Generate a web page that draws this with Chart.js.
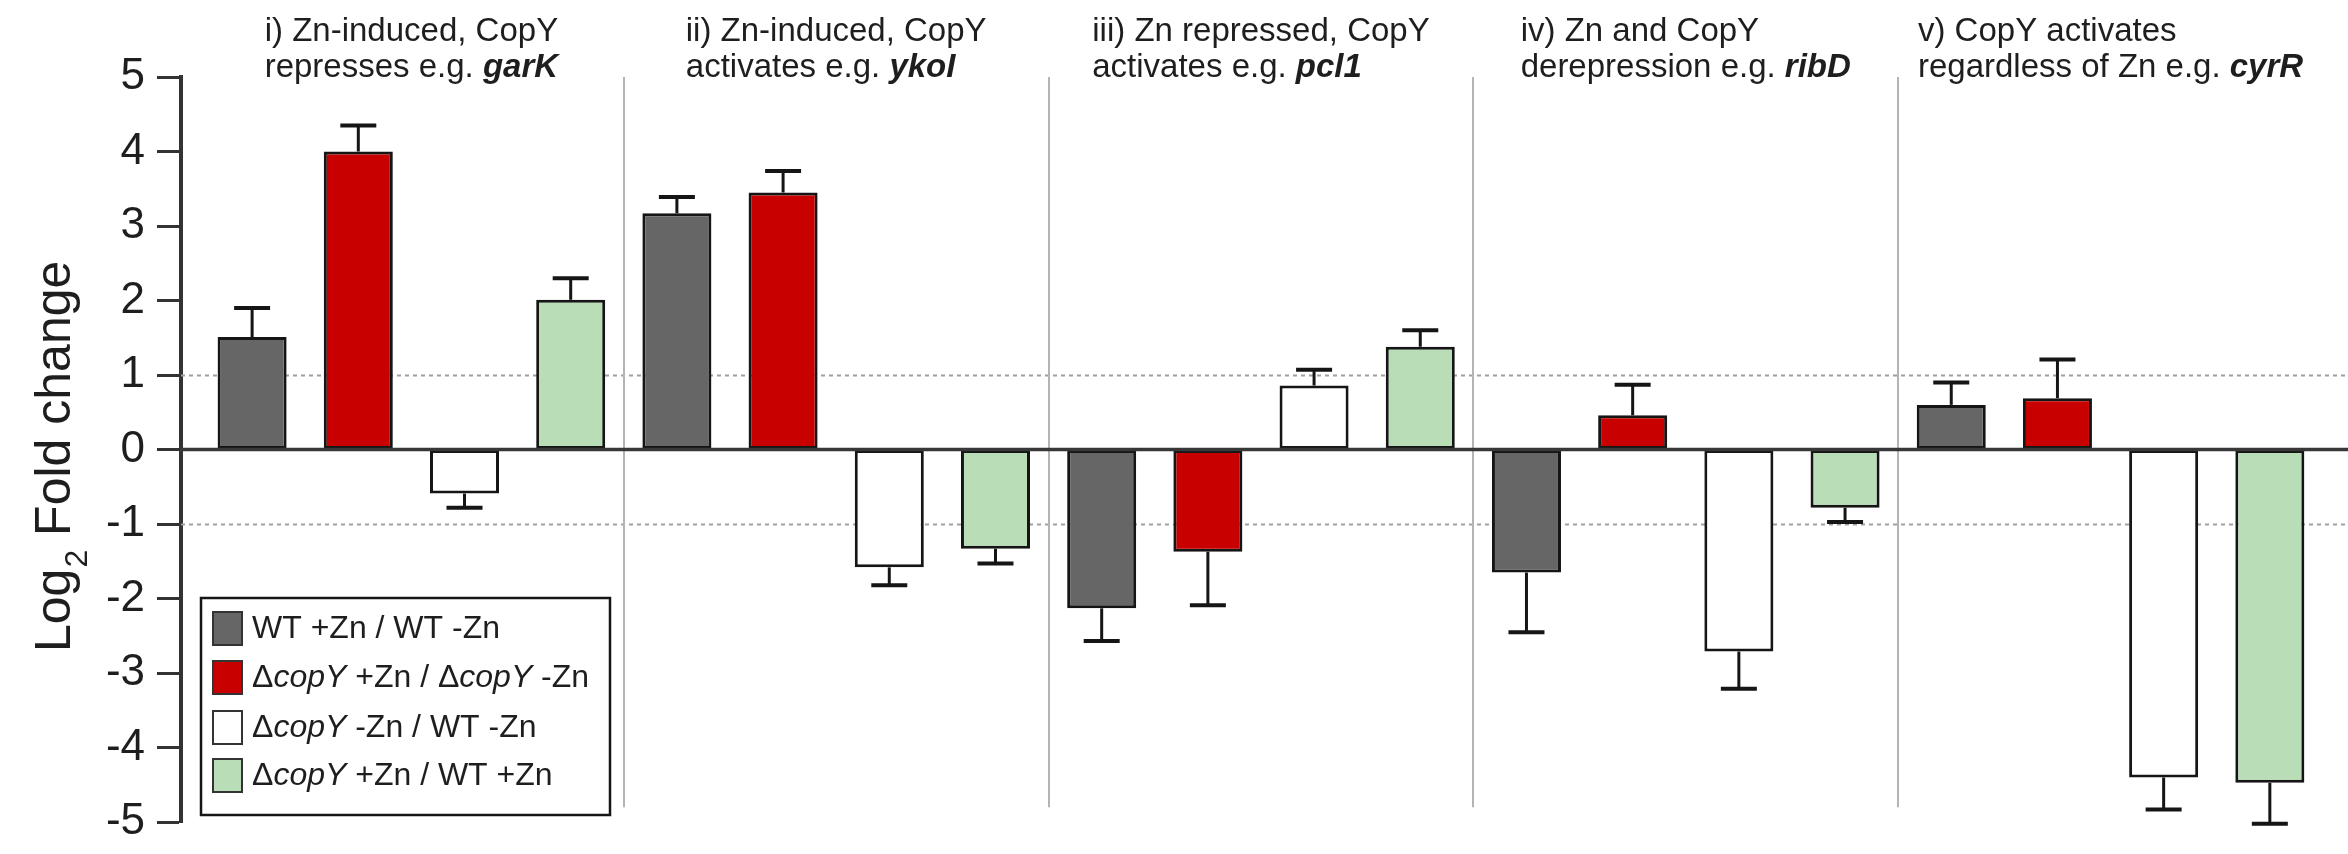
<!DOCTYPE html>
<html>
<head>
<meta charset="utf-8">
<script src="https://cdn.jsdelivr.net/npm/chart.js@4/dist/chart.umd.min.js"></script>
<style>
  html, body { margin: 0; padding: 0; background: #ffffff; }
  canvas { display: block; }
</style>
</head>
<body>
<canvas id="chart" width="2348" height="854"></canvas>
<script>
// ---- data ----
const groupTitleLine1 = [
  'i) Zn-induced, CopY',
  'ii) Zn-induced, CopY',
  'iii) Zn repressed, CopY',
  'iv) Zn and CopY',
  'v) CopY activates'
];
const groupTitleLine2 = [
  'represses e.g. ',
  'activates e.g. ',
  'activates e.g. ',
  'derepression e.g. ',
  'regardless of Zn e.g. '
];
const groupGenes = ['garK', 'ykoI', 'pcl1', 'ribD', 'cyrR'];

const seriesNames = [
  'WT +Zn / WT -Zn',
  'ΔcopY +Zn / ΔcopY -Zn',
  'ΔcopY -Zn / WT -Zn',
  'ΔcopY +Zn / WT +Zn'
];

// log2 fold change per group, and SD (drawn one-sided)
const wtPlusVsMinus      = [1.51, 3.17, -2.13, -1.65, 0.60];
const wtPlusVsMinusErr   = [0.39, 0.22, 0.44, 0.80, 0.30];
const copyPlusVsMinus    = [4.00, 3.45, -1.37, 0.46, 0.69];
const copyPlusVsMinusErr = [0.35, 0.29, 0.72, 0.41, 0.52];
const copyVsWtMinusZn    = [-0.59, -1.58, 0.86, -2.71, -4.40];
const copyVsWtMinusZnErr = [0.19, 0.24, 0.21, 0.50, 0.43];
const copyVsWtPlusZn     = [2.01, -1.33, 1.38, -0.78, -4.47];
const copyVsWtPlusZnErr  = [0.29, 0.20, 0.22, 0.19, 0.55];

const yTickValues = [-5, -4, -3, -2, -1, 0, 1, 2, 3, 4, 5];

// ---- styling ----
const FONT = '"Liberation Sans", Arial, Helvetica, sans-serif';
const seriesFill = ['#666666', '#c80000', '#ffffff', '#b9ddb6'];
const TEXT = '#1e1e1e';

const seriesValues = [wtPlusVsMinus, copyPlusVsMinus, copyVsWtMinusZn, copyVsWtPlusZn];
const seriesErrors = [wtPlusVsMinusErr, copyPlusVsMinusErr, copyVsWtMinusZnErr, copyVsWtPlusZnErr];

const datasets = seriesNames.map((name, s) => ({
  label: name,
  data: seriesValues[s].map((v, g) => ({ x: g, y: v })),
  errors: seriesErrors[s],
  backgroundColor: seriesFill[s],
  borderColor: '#151515',
  borderWidth: 3,
  borderSkipped: false,
  categoryPercentage: 1.0,
  barPercentage: 0.65
}));

// reference lines, group separators, zero line, error bars, titles, legend
const decorations = {
  id: 'decorations',
  beforeDraw(chart) {
    const ctx = chart.ctx;
    ctx.save();
    ctx.fillStyle = '#ffffff';
    ctx.fillRect(0, 0, chart.width, chart.height);
    ctx.restore();
  },
  beforeDatasetsDraw(chart) {
    const { ctx, chartArea, scales: { x, y } } = chart;
    ctx.save();
    // dotted guides at +/-1
    ctx.strokeStyle = '#a0a0a0';
    ctx.lineWidth = 2;
    ctx.setLineDash([4, 4]);
    [1, -1].forEach(v => {
      const py = Math.round(y.getPixelForValue(v)) + 0.5;
      ctx.beginPath();
      ctx.moveTo(chartArea.left, py);
      ctx.lineTo(chartArea.right, py);
      ctx.stroke();
    });
    ctx.setLineDash([]);
    // group separators
    ctx.strokeStyle = '#b4b4b4';
    ctx.lineWidth = 2;
    for (let g = 0; g < groupGenes.length - 1; g++) {
      const px = Math.round(x.getPixelForValue(g + 0.5));
      ctx.beginPath();
      ctx.moveTo(px, chartArea.top);
      ctx.lineTo(px, y.getPixelForValue(-4.8));
      ctx.stroke();
    }
    ctx.restore();
  },
  afterDatasetsDraw(chart) {
    const { ctx, chartArea, scales: { y } } = chart;
    ctx.save();
    // zero line
    const y0 = y.getPixelForValue(0);
    ctx.strokeStyle = '#383838';
    ctx.lineWidth = 3.5;
    ctx.beginPath();
    ctx.moveTo(chartArea.left, y0);
    ctx.lineTo(chartArea.right, y0);
    ctx.stroke();
    // error bars, pointing away from zero
    ctx.strokeStyle = '#151515';
    chart.data.datasets.forEach((ds, d) => {
      const meta = chart.getDatasetMeta(d);
      meta.data.forEach((bar, i) => {
        const v = ds.data[i].y;
        const e = ds.errors[i];
        const end = v >= 0 ? v + e : v - e;
        const yStart = y.getPixelForValue(v);
        const yEnd = y.getPixelForValue(end);
        ctx.lineWidth = 3;
        ctx.beginPath();
        ctx.moveTo(bar.x, yStart);
        ctx.lineTo(bar.x, yEnd);
        ctx.stroke();
        ctx.lineWidth = 4;
        ctx.beginPath();
        ctx.moveTo(bar.x - 18, yEnd);
        ctx.lineTo(bar.x + 18, yEnd);
        ctx.stroke();
      });
    });
    ctx.restore();
  },
  afterDraw(chart) {
    const { ctx, scales: { x } } = chart;
    ctx.save();
    ctx.fillStyle = TEXT;
    ctx.textBaseline = 'alphabetic';
    ctx.textAlign = 'left';

    // group headings: left-aligned lines, block centred on the group
    const normal = '33px ' + FONT;
    const geneFont = 'italic bold 33px ' + FONT;
    groupGenes.forEach((gene, g) => {
      ctx.font = normal;
      const w1 = ctx.measureText(groupTitleLine1[g]).width;
      const w2a = ctx.measureText(groupTitleLine2[g]).width;
      ctx.font = geneFont;
      const w2b = ctx.measureText(gene).width;
      const blockW = Math.max(w1, w2a + w2b);
      const left = x.getPixelForValue(g) - blockW / 2;
      ctx.font = normal;
      ctx.fillText(groupTitleLine1[g], left, 41);
      ctx.fillText(groupTitleLine2[g], left, 77);
      ctx.font = geneFont;
      ctx.fillText(gene, left + w2a, 77);
    });

    // y-axis title with subscript
    ctx.save();
    ctx.translate(70, 652);
    ctx.rotate(-Math.PI / 2);
    ctx.font = '50px ' + FONT;
    ctx.fillText('Log', 0, 0);
    const wLog = ctx.measureText('Log').width;
    ctx.font = '32px ' + FONT;
    ctx.fillText('2', wLog + 1, 17);
    const wSub = ctx.measureText('2').width;
    ctx.font = '50px ' + FONT;
    ctx.fillText(' Fold change', wLog + wSub + 1, 0);
    ctx.restore();

    // legend box
    const bx = 201, by = 598, bw = 409, bh = 217;
    ctx.fillStyle = '#ffffff';
    ctx.fillRect(bx, by, bw, bh);
    ctx.strokeStyle = '#151515';
    ctx.lineWidth = 2.5;
    ctx.strokeRect(bx, by, bw, bh);
    const rowY = [628, 677, 727, 775];
    seriesNames.forEach((name, s) => {
      const cy = rowY[s];
      ctx.fillStyle = seriesFill[s];
      ctx.fillRect(213, cy - 16, 29, 33);
      ctx.strokeStyle = '#333333';
      ctx.lineWidth = 2;
      ctx.strokeRect(213, cy - 16, 29, 33);
      ctx.fillStyle = TEXT;
      ctx.textBaseline = 'middle';
      let tx = 252;
      name.split(/(copY)/).forEach(part => {
        if (!part) return;
        ctx.font = (part === 'copY' ? 'italic ' : '') + '32px ' + FONT;
        ctx.fillText(part, tx, cy + 1);
        tx += ctx.measureText(part).width;
      });
    });
    ctx.restore();
  }
};

new Chart(document.getElementById('chart'), {
  type: 'bar',
  data: { datasets },
  options: {
    responsive: false,
    animation: false,
    devicePixelRatio: 1,
    layout: { padding: { top: 77, right: 0, bottom: 21, left: 0 } },
    plugins: {
      legend: { display: false },
      tooltip: { enabled: false },
      title: { display: false }
    },
    scales: {
      x: {
        type: 'linear',
        min: -0.5424,
        max: 4.559,
        offset: false,
        display: false,
        afterBuildTicks: s => { s.ticks = groupGenes.map((_, g) => ({ value: g })); }
      },
      y: {
        min: -5,
        max: 5,
        afterBuildTicks: s => { s.ticks = yTickValues.map(v => ({ value: v })); },
        afterFit: s => { s.width = 181; },
        ticks: {
          color: TEXT,
          padding: 12,
          font: { family: FONT, size: 44, lineHeight: 0.9 }
        },
        grid: {
          drawOnChartArea: false,
          drawTicks: true,
          tickLength: 24,
          tickWidth: 3,
          tickColor: '#333333'
        },
        border: { display: true, width: 4, color: '#333333' }
      }
    }
  },
  plugins: [decorations]
});
</script>
</body>
</html>
